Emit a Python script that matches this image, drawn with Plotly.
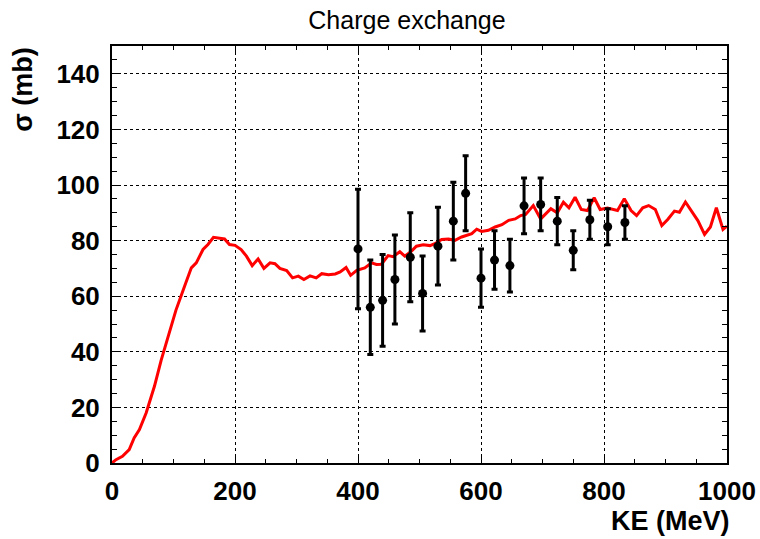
import plotly.graph_objects as go

# Model curve (KE in MeV, sigma in mb)
curve_ke = [0, 6.5, 17, 28, 36, 44.6, 55.5, 69, 80, 93.5, 104, 118, 129, 137, 148, 156, 165, 183, 191, 200,
            210, 218.6, 228, 237.6, 247, 257, 265, 273, 284, 293.6, 303, 312, 322, 332, 341, 352, 363, 371,
            380.6, 388, 398, 411, 422, 430, 438, 449, 457, 468, 476, 487, 495, 506, 517, 525, 536, 547,
            557.6, 568.5, 579.4, 585, 593, 601, 612, 623, 634, 645, 655.6, 664.5, 672.6, 685, 697, 713.6,
            724, 734, 743, 753, 763, 773, 784, 793.7, 805.6, 822, 833, 844, 853, 863, 872.6, 883.5, 894,
            903.6, 914.5, 922.6, 932.4, 944, 952.6, 963.5, 973, 982.7, 993.5, 1000]
curve_sigma = [0, 1.2, 2.4, 4.8, 9, 12, 18, 27.6, 37, 46.8, 55, 63.6, 70.2, 72, 76.8, 78.6, 81.2, 80.6, 78.6, 78.3,
               76.8, 74.4, 71, 73.4, 70, 72, 71.7, 70, 69.2, 66.6, 67.2, 66, 67.3, 66.6, 68.1, 67.7, 68, 68.7,
               70.3, 67.5, 69.3, 70.2, 72, 71.4, 71.5, 74.6, 74.2, 76, 74.4, 76.2, 78, 78.5, 78.2, 78.9, 80.4, 80.6,
               80.1, 81.3, 82.1, 82.5, 84.1, 83.3, 83.7, 84.9, 85.7, 87.3, 87.8, 89, 89.4, 92.6, 87.8, 91.5,
               90, 93.8, 91.8, 95.6, 91.2, 90.8, 95.4, 91.2, 91.7, 90.8, 95.1, 90.8, 89, 91.8, 92.6, 91.2, 85.4,
               87.6, 90.6, 90.2, 93.9, 90, 87.2, 82.2, 84.9, 91.8, 84, 85.2]

# Measured data
data_ke = [400, 420, 440, 460, 485, 505, 530, 555, 575, 600, 622, 647, 670, 697, 724, 750, 777, 806, 834]
data_sigma = [77, 56, 58.5, 66, 74, 61, 78, 87, 97, 66.5, 73, 71, 92.5, 93, 87, 76.5, 87.5, 85, 86.5]
data_err = [21.5, 17, 16.5, 16, 16, 13.5, 14, 14, 13.5, 10.5, 10.5, 9.5, 10, 9.5, 8.5, 7, 7, 6.5, 6]

title_text = "Charge exchange"
x_title = "KE (MeV)"
y_title = "σ (mb)"

FONT = "Liberation Sans, Arial, Helvetica, sans-serif"

fig = go.Figure()
fig.add_trace(go.Scatter(x=curve_ke, y=curve_sigma, mode="lines",
                         line=dict(color="#ff0000", width=3), showlegend=False))
fig.add_trace(go.Scatter(x=data_ke, y=data_sigma, mode="markers",
                         marker=dict(color="black", size=9),
                         error_y=dict(type="data", array=data_err, color="black", thickness=3, width=3),
                         showlegend=False))

axis_common = dict(
    showline=True, linecolor="black", linewidth=2, mirror="allticks",
    ticks="inside", tickcolor="black", tickwidth=1,
    showgrid=True, gridcolor="black", gridwidth=1, griddash="dot",
    zeroline=False, automargin=False,
    tickfont=dict(family=FONT, size=26, color="black", weight="bold"),
)

fig.update_xaxes(range=[0, 1000], tick0=0, dtick=200, ticklen=7,
                 minor=dict(dtick=50, ticks="inside", ticklen=4, tickcolor="black", showgrid=False),
                 ticklabelstandoff=4, **axis_common)
fig.update_yaxes(range=[0, 150], tick0=0, dtick=20, ticklen=9,
                 minor=dict(dtick=5, ticks="inside", ticklen=5, tickcolor="black", showgrid=False),
                 ticklabelstandoff=5, **axis_common)

fig.update_layout(
    width=760, height=539,
    margin=dict(l=112, r=33, t=46, b=76, autoexpand=False),
    plot_bgcolor="white", paper_bgcolor="white",
    title=dict(text=title_text, x=407 / 760, xanchor="center", xref="container",
               y=1 - 20 / 539, yref="container", yanchor="middle",
               font=dict(family=FONT, size=25, color="black")),
    annotations=[
        dict(text=x_title, xref="paper", yref="paper", x=1.008, y=-0.139,
             xanchor="right", yanchor="middle", showarrow=False,
             font=dict(family=FONT, size=27, color="black", weight="bold")),
        dict(text=y_title, xref="paper", yref="paper", x=-0.145, y=1.0,
             xanchor="center", yanchor="top", textangle=-90, showarrow=False,
             font=dict(family=FONT, size=27, color="black", weight="bold")),
    ],
)

fig.write_html("out.html")
